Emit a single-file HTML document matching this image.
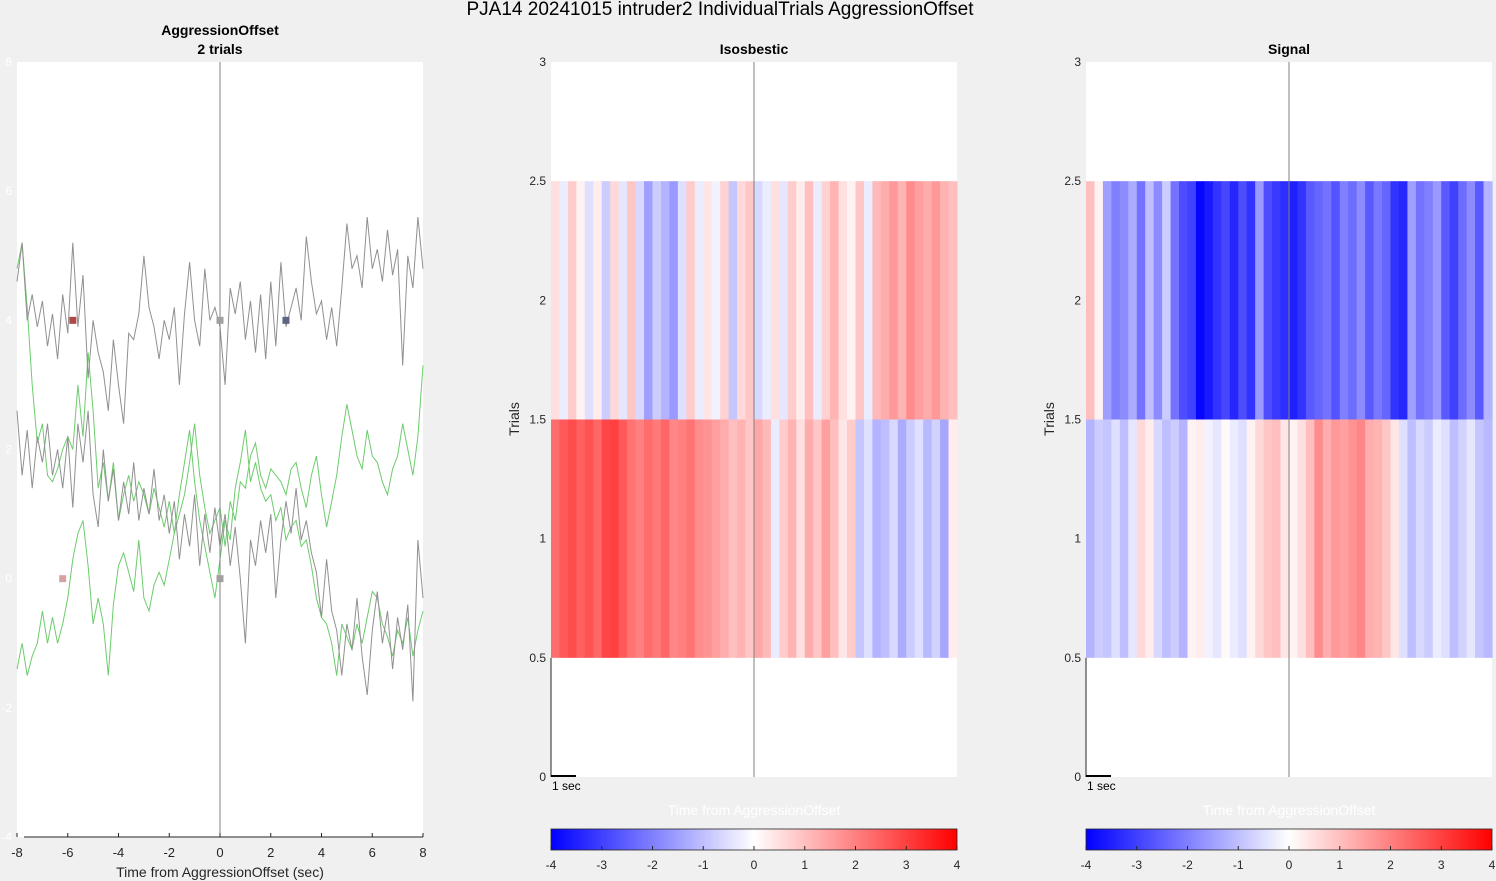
<!DOCTYPE html>
<html><head><meta charset="utf-8">
<style>
html,body{margin:0;padding:0;background:#f0f0f0;}
svg{display:block;font-family:"Liberation Sans",Arial,sans-serif;}
</style></head>
<body>
<svg id="fig" width="1496" height="881" viewBox="0 0 1496 881" xmlns="http://www.w3.org/2000/svg">
<rect width="1496" height="881" fill="#f0f0f0"/>
<text x="720" y="15" font-size="19" text-anchor="middle" fill="#000">PJA14 20241015  intruder2 IndividualTrials AggressionOffset</text>
<g id="left"></g>
<g id="iso"></g>
<g id="sig"></g>
</svg>
<script>
const NS="http://www.w3.org/2000/svg";
function mk(p,tag,attrs,txt){const e=document.createElementNS(NS,tag);for(const k in attrs)e.setAttribute(k,attrs[k]);if(txt!==undefined)e.textContent=txt;p.appendChild(e);return e;}

// ---------- Data ----------
const timeStart=-8, timeStep=0.2;
const gray1=[4.6,5.2,4.0,4.4,3.9,4.3,3.6,4.1,3.4,4.4,3.8,5.2,3.9,4.7,3.1,4.0,3.5,3.2,2.6,3.7,3.0,2.4,3.8,3.7,4.1,5.0,4.2,3.9,3.4,4.0,3.7,4.2,3.0,4.1,4.9,4.0,3.6,4.8,4.0,4.2,3.9,3.0,4.5,4.1,4.6,3.7,4.3,3.5,4.4,3.4,4.6,3.6,4.9,3.9,4.2,4.5,4.0,5.3,4.6,4.1,4.3,3.7,4.2,3.6,4.5,5.5,4.8,5.0,4.5,5.6,4.8,5.1,4.6,5.4,4.7,5.1,3.3,5.0,4.5,5.6,4.8];
const gray2=[2.6,1.6,2.3,1.4,2.2,1.8,2.4,1.6,2.0,1.4,2.2,1.1,2.4,1.8,2.6,1.3,0.8,2.0,1.2,1.7,0.9,1.5,1.0,1.8,0.9,1.4,1.0,1.7,0.9,1.3,0.7,1.2,0.3,1.0,0.5,1.3,0.2,1.0,0.4,1.1,0.5,1.0,0.2,0.8,0.0,-1.0,0.6,0.2,0.9,0.4,1.0,-0.3,0.6,1.2,0.7,1.4,0.6,0.9,0.4,0.1,-0.6,0.3,-0.5,-0.8,-1.5,-0.7,-1.1,-0.3,-1.2,-1.8,-0.8,-0.2,-1.0,-0.5,-1.4,-0.6,-1.1,-0.4,-1.9,0.6,-0.3];
const green1=[4.8,5.2,4.2,3.0,2.1,2.4,1.6,1.5,1.7,2.0,2.2,2.0,3.0,2.2,3.5,2.6,1.4,1.8,1.2,1.8,0.9,1.3,1.6,1.2,1.5,1.3,1.0,1.4,1.1,0.8,1.2,0.7,1.0,1.3,1.8,2.4,1.6,1.1,0.7,0.9,1.1,0.5,1.2,0.9,1.5,1.4,1.9,2.1,1.6,1.4,1.7,1.6,1.5,1.3,1.7,1.8,1.4,1.1,1.6,1.9,1.3,0.8,1.2,1.6,2.2,2.7,2.3,1.9,1.7,2.3,1.9,1.8,1.5,1.3,1.7,1.9,2.4,2.0,1.6,2.2,3.3];
const green2=[-1.4,-1.0,-1.5,-1.2,-1.0,-0.5,-1.0,-0.6,-1.0,-0.7,-0.3,0.3,0.7,0.9,0.2,-0.7,-0.3,-0.7,-1.5,-0.4,0.2,0.4,0.1,-0.2,0.6,-0.3,-0.5,-0.1,0.1,-0.1,0.3,0.7,1.3,1.8,2.3,1.5,0.9,0.5,0.1,-0.3,0.3,0.9,0.6,1.4,1.8,2.3,1.5,1.8,1.4,1.2,1.3,0.9,1.1,0.6,0.8,0.9,0.5,0.6,0.2,-0.3,-0.6,-0.7,-1.0,-1.5,-0.7,-0.9,-1.1,-0.7,-1.0,-0.6,-0.2,-0.3,-0.7,-0.9,-1.2,-0.8,-1.0,-0.6,-1.2,-0.8,-0.5];
const markerTimes=[-5.8,0,2.6,-6.2,0];
const markerValues=[4,4,4,0,0];
const markerColors=["#b04848","#a0a0a0","#5f6480","#d4a4a4","#a0a0a0"];
const xTicks=[-8,-6,-4,-2,0,2,4,6,8];
const yTicksLeft=[8,6,4,2,0,-2,-4];

const isoTrial2=[0.5,-0.3,0.8,0.2,-0.5,0.3,-0.8,0.6,-0.4,0.9,-0.6,-1.5,-0.8,-1.2,-1.6,-0.5,0.8,-0.3,0.4,-0.2,0.7,-0.9,0.6,0.9,-0.6,-0.3,0.5,-0.4,0.8,0.3,1.0,-0.3,0.7,1.2,0.5,0.2,0.9,-0.3,1.1,1.3,1.6,1.2,1.8,1.5,1.3,1.6,1.2,1.0];
const isoTrial1=[2.3,2.6,2.8,2.5,2.7,2.4,2.9,3.0,2.6,2.2,2.0,2.3,2.1,2.4,1.9,2.0,2.2,1.8,1.7,1.5,1.3,1.0,1.2,0.9,1.4,1.1,-0.3,0.8,1.2,0.5,1.3,0.9,1.5,1.0,0.4,0.8,-0.9,-0.5,-1.2,-1.0,-0.6,-1.3,-0.8,-0.5,-1.1,-0.7,-1.4,0.3];
const sigTrial2=[1.0,0.2,-1.5,-2.0,-1.8,-1.3,-2.2,-1.0,-1.8,-0.8,-2.2,-2.8,-3.0,-3.9,-3.6,-3.2,-2.9,-3.4,-2.8,-3.2,-1.6,-2.8,-3.1,-3.3,-3.5,-3.2,-2.6,-2.4,-2.2,-2.7,-2.0,-2.3,-1.8,-2.6,-2.1,-2.4,-3.2,-3.4,-1.5,-2.2,-2.0,-1.6,-2.6,-3.0,-2.3,-1.8,-2.6,-1.2];
const sigTrial1=[-1.2,-0.8,-0.9,-0.5,-1.0,-0.4,0.6,0.3,-0.6,-1.0,-0.8,-1.2,0.2,0.3,-0.2,-0.4,0.1,-0.3,-0.5,0.2,0.6,0.9,1.0,0.4,0.2,0.5,1.0,1.8,1.3,1.6,1.5,1.7,1.9,1.3,1.2,0.9,0.4,-0.5,-1.0,-0.6,-0.8,-0.3,-0.5,-1.0,-0.7,-0.4,-0.9,-1.1];
const trialTicks=[0,0.5,1,1.5,2,2.5,3];
const cbarTicks=[-4,-3,-2,-1,0,1,2,3,4];

// ---------- Left trace panel ----------
const L=document.getElementById('left');
const lx0=17,lx1=423,ly0=62,ly1=837;
const xs=t=>lx0+(t+8)/16*(lx1-lx0);
const ys=v=>ly0+(8-v)/12*(ly1-ly0);
mk(L,'rect',{x:lx0,y:ly0,width:lx1-lx0,height:ly1-ly0,fill:'#fff',});
mk(L,'text',{x:220,y:35,'font-size':14,'font-weight':'bold','text-anchor':'middle',},'AggressionOffset');
mk(L,'text',{x:220,y:54,'font-size':14,'font-weight':'bold','text-anchor':'middle',},'2 trials');
yTicksLeft.forEach(v=>{const e=mk(L,'text',{x:12,y:ys(v)+4,'font-size':12,'text-anchor':'end',fill:'#ffffff'},v);

});
function trace(arr,color,name){
  const d=arr.map((v,i)=>(i?'L':'M')+xs(timeStart+i*timeStep).toFixed(1)+','+ys(v).toFixed(1)).join('');
  const p=mk(L,'path',{d:d,fill:'none',stroke:color,'stroke-width':1});
  
  
}
trace(green1,'#6ccc6c','green-trace-trial-1');
trace(green2,'#6ccc6c','green-trace-trial-2');
trace(gray1,'#909090','gray-trace-trial-1');
trace(gray2,'#909090','gray-trace-trial-2');
mk(L,'line',{x1:xs(0),y1:ly0,x2:xs(0),y2:ly1,stroke:'#808080','stroke-width':1,});
markerTimes.forEach((t,i)=>{const r=mk(L,'rect',{x:xs(t)-3.5,y:ys(markerValues[i])-3.5,width:7,height:7,fill:markerColors[i]});

});
mk(L,'line',{x1:24,y1:ly1,x2:lx1,y2:ly1,stroke:'#262626',});
xTicks.forEach(t=>{
  const l=mk(L,'line',{x1:xs(t),y1:ly1,x2:xs(t),y2:ly1-4,stroke:'#262626'});
  
  
  const e=mk(L,'text',{x:xs(t),y:857,'font-size':13,'text-anchor':'middle',fill:'#262626'},t);
  
  
});
mk(L,'text',{x:220,y:877,'font-size':14,'text-anchor':'middle',fill:'#262626',},'Time from AggressionOffset (sec)');

// ---------- Heatmaps ----------
function cmap(v){const f=Math.max(-1,Math.min(1,v/4));
  if(f<0){const c=Math.round(255*(1+f));return `rgb(${c},${c},255)`;}
  const c=Math.round(255*(1-f));return `rgb(255,${c},${c})`;}
function heat(G,x0,title,row1,row2,prefix){
  const x1=x0+406,y0=62,y1=777;
  const ty=v=>y1-v/3*(y1-y0);
  mk(G,'rect',{x:x0,y:y0,width:x1-x0,height:y1-y0,fill:'#fff',});
  mk(G,'text',{x:(x0+x1)/2,y:54,'font-size':14,'font-weight':'bold','text-anchor':'middle',},title);
  [[row1,1],[row2,2]].forEach(([row,tr])=>{
    const w=(x1-x0)/row.length;
    row.forEach((v,i)=>{const r=mk(G,'rect',{x:(x0+i*w).toFixed(2),y:ty(tr+0.5),width:(w+0.6).toFixed(2),height:ty(tr-0.5)-ty(tr+0.5),fill:cmap(v)});
      
      });
  });
  mk(G,'line',{x1:(x0+x1)/2,y1:y0,x2:(x0+x1)/2,y2:y1,stroke:'#808080',});
  mk(G,'line',{x1:x0,y1:ty(0.5),x2:x0,y2:y1,stroke:'#262626',});
  trialTicks.forEach(v=>{const e=mk(G,'text',{x:x0-5,y:ty(v)+4,'font-size':12,'text-anchor':'end',fill:'#262626'},v);
    
    });
  mk(G,'text',{x:0,y:0,'font-size':14,'text-anchor':'middle',fill:'#262626',transform:`translate(${x0-32},419) rotate(-90)`,},'Trials');
  mk(G,'line',{x1:x0,y1:776,x2:x0+25,y2:776,stroke:'#000','stroke-width':2,});
  mk(G,'text',{x:x0+1,y:790,'font-size':12,fill:'#000',},'1 sec');
  mk(G,'text',{x:(x0+x1)/2,y:815,'font-size':14,'text-anchor':'middle',fill:'#ffffff',},'Time from AggressionOffset');
  const gid=prefix+'-grad';
  const defs=mk(G,'defs',{});
  const lg=mk(defs,'linearGradient',{id:gid,x1:0,y1:0,x2:1,y2:0});
  mk(lg,'stop',{offset:'0','stop-color':'#0000ff'});
  mk(lg,'stop',{offset:'0.5','stop-color':'#ffffff'});
  mk(lg,'stop',{offset:'1','stop-color':'#ff0000'});
  mk(G,'rect',{x:x0,y:829,width:x1-x0,height:21,fill:`url(#${gid})`,stroke:'#262626','stroke-width':0.8,});
  cbarTicks.forEach(v=>{const cx=x0+(v+4)/8*(x1-x0);
    const l=mk(G,'line',{x1:cx,y1:850,x2:cx,y2:846,stroke:'#262626'});
    
    
    const e=mk(G,'text',{x:cx,y:869,'font-size':12,'text-anchor':'middle',fill:'#262626'},v);
    
    });
}
heat(document.getElementById('iso'),551,'Isosbestic',isoTrial1,isoTrial2,'isosbestic');
heat(document.getElementById('sig'),1086,'Signal',sigTrial1,sigTrial2,'signal');
</script>
</body></html>
